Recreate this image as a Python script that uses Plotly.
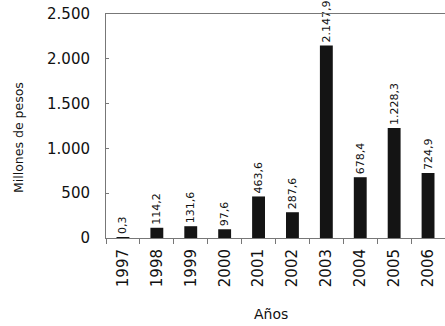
import plotly.graph_objects as go

years = ["1997", "1998", "1999", "2000", "2001", "2002", "2003", "2004", "2005", "2006"]
values = [0.3, 114.2, 131.6, 97.6, 463.6, 287.6, 2147.9, 678.4, 1228.3, 724.9]
y_ticks = [0, 500, 1000, 1500, 2000, 2500]


def fmt(v):
    s = f"{v:,.1f}"
    return s.replace(",", "X").replace(".", ",").replace("X", ".")


def fmt_int(v):
    return f"{v:,}".replace(",", ".")


labels = [fmt(v) for v in values]

fig = go.Figure(
    go.Bar(
        x=years,
        y=values,
        width=0.38,
        marker=dict(color="#141414", line=dict(width=0)),
        text=labels,
        textposition="outside",
        textangle=-90,
        constraintext="none",
        cliponaxis=False,
        textfont=dict(family="DejaVu Sans", size=11, color="#111"),
    )
)

fig.update_layout(
    width=445,
    height=326,
    margin=dict(l=106, r=0, t=14, b=88),
    plot_bgcolor="white",
    paper_bgcolor="white",
    showlegend=False,
    font=dict(family="DejaVu Sans", color="#111"),
    xaxis=dict(
        type="category",
        automargin=False,
        showline=True,
        mirror=True,
        linecolor="#777",
        linewidth=1,
        ticks="outside",
        tickson="boundaries",
        ticklen=5,
        tickcolor="#777",
        tickangle=-90,
        ticklabelstandoff=4,
        tickfont=dict(size=15, family="DejaVu Sans", color="#111"),
        showgrid=False,
    ),
    yaxis=dict(
        range=[0, 2500],
        automargin=False,
        tickvals=y_ticks,
        ticktext=[fmt_int(v) for v in y_ticks],
        showline=True,
        linecolor="#777",
        linewidth=1,
        ticks="inside",
        ticklen=3,
        tickcolor="#777",
        ticklabelstandoff=12,
        tickfont=dict(size=15, family="DejaVu Sans", color="#111"),
        showgrid=False,
        zeroline=False,
    ),
    annotations=[
        dict(text="Millones de pesos", xref="paper", yref="paper",
             x=(18 - 106) / 339, y=(238 - 138) / 224, xanchor="center",
             yanchor="middle", textangle=-90, showarrow=False,
             font=dict(size=12.5, family="DejaVu Sans", color="#111")),
        dict(text="Años", xref="paper", yref="paper",
             x=(271 - 106) / 339, y=-(314 - 238) / 224, xanchor="center",
             yanchor="middle", showarrow=False,
             font=dict(size=14, family="DejaVu Sans", color="#111")),
    ],
)

fig.write_html(
    "out.html",
    config={"displayModeBar": False},
    post_script="document.body.style.margin='0';document.body.style.overflow='hidden';",
)
